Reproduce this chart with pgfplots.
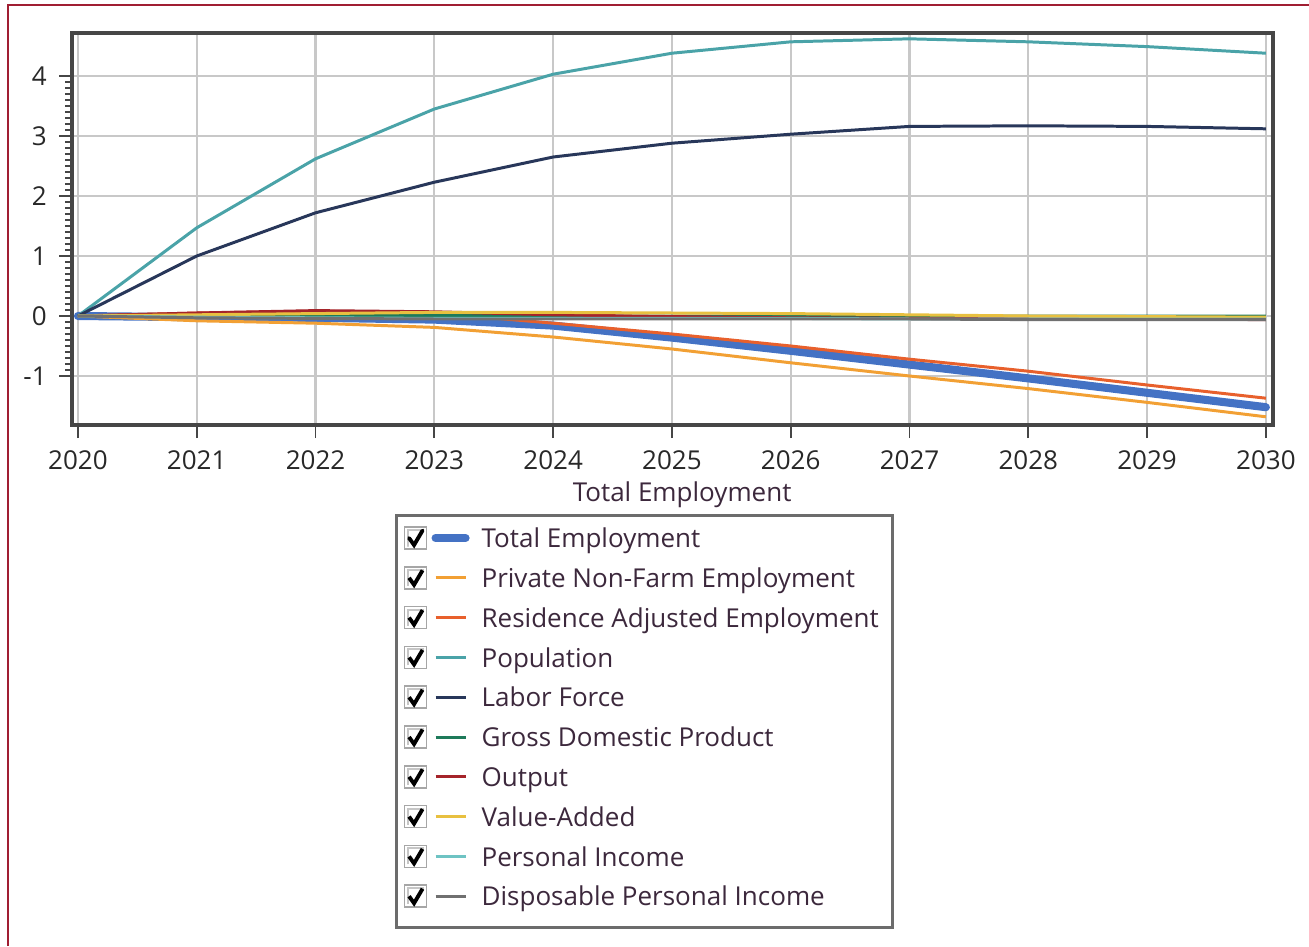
\documentclass[border=0pt]{standalone}
\usepackage{pgfplots}
\pgfplotsset{compat=1.18}
\usepackage{pgfplotstable}
\usepackage{fontspec}
\setmainfont{Open Sans}

\definecolor{cTE}{RGB}{68,114,196}
\definecolor{cPNF}{RGB}{242,160,52}
\definecolor{cRAE}{RGB}{232,96,44}
\definecolor{cPOP}{RGB}{74,163,168}
\definecolor{cLF}{RGB}{40,55,90}
\definecolor{cGDP}{RGB}{30,122,90}
\definecolor{cOUT}{RGB}{165,36,42}
\definecolor{cVA}{RGB}{232,192,64}
\definecolor{cPI}{RGB}{110,195,195}
\definecolor{cDPI}{RGB}{112,112,112}
\definecolor{frameRed}{RGB}{160,30,50}
\definecolor{axisGray}{RGB}{70,70,70}
\definecolor{gridGray}{RGB}{200,200,200}
\definecolor{labText}{RGB}{60,40,60}
\definecolor{tickText}{RGB}{40,40,40}

\pgfplotstableread{
year TE PNF RAE POP LF GDP OUT VA PI DPI
2020 0 0 0 0 0 0 0 0 0 0
2021 -0.02 -0.08 0.05 1.47 1.00 0.01 0.05 0.02 -0.02 -0.03
2022 -0.03 -0.12 0.08 2.62 1.72 0.01 0.09 0.04 -0.03 -0.04
2023 -0.06 -0.19 0.05 3.45 2.23 0.01 0.07 0.06 -0.04 -0.05
2024 -0.16 -0.35 -0.12 4.03 2.65 0.00 0.02 0.06 -0.04 -0.05
2025 -0.36 -0.55 -0.30 4.38 2.88 0.00 -0.01 0.05 -0.04 -0.05
2026 -0.58 -0.78 -0.50 4.57 3.03 0.00 -0.03 0.04 -0.04 -0.05
2027 -0.81 -1.00 -0.72 4.62 3.16 0.00 -0.04 0.02 -0.05 -0.05
2028 -1.04 -1.21 -0.92 4.57 3.17 0.00 -0.05 0.00 -0.05 -0.06
2029 -1.28 -1.44 -1.15 4.49 3.16 0.00 -0.05 -0.01 -0.05 -0.06
2030 -1.52 -1.68 -1.37 4.38 3.12 0.00 -0.06 -0.02 -0.05 -0.06
}\datatable

\newcommand{\chartfont}{\fontsize{7.4}{9}\selectfont}

\begin{document}
\begin{tikzpicture}
\useasboundingbox (0,0) rectangle (13.09,9.46);
\draw[frameRed, line width=0.6pt] (0.08,0) -- (0.08,9.41) -- (13.09,9.41);
\begin{axis}[
  at={(0.72cm,5.21cm)}, anchor=south west,
  scale only axis, width=12.01cm, height=3.92cm,
  xmin=2019.95, xmax=2030.06,
  ymin=-1.817, ymax=4.717,
  xtick={2020,2021,...,2030},
  ytick={-1,0,1,2,3,4},
  minor x tick num=3, minor y tick num=9,
  grid=major,
  major grid style={gridGray, line width=0.6pt},
  axis line style={axisGray, line width=1pt},
  tick pos=left, tick align=outside,
  major tick length=0.13cm, minor tick length=0.07cm,
  tick style={axisGray, line width=0.5pt},
  every tick label/.append style={font=\chartfont, text=tickText},
  /pgf/number format/assume math mode=true,
  /pgf/number format/1000 sep={},
  xlabel={Total Employment},
  xlabel style={at={(rel axis cs:0.508,0)}, anchor=north, yshift=-0.44cm, font=\chartfont, text=labText},
  legend cell align=left,
  legend style={at={(rel axis cs:0.269,-0.227)}, anchor=north west,
    draw=gray!85!black, line width=0.9pt, fill=white,
    font=\chartfont, text=labText,
    inner xsep=2pt, inner ysep=2pt, row sep=0pt,
    nodes={inner ysep=0pt, text height=0.25cm, text depth=0.148cm}},
  legend image code/.code={
    \begin{scope}[yshift=0.045cm]
    \draw[gray!70, line width=0.5pt, fill=white] (0cm,-0.11cm) rectangle (0.22cm,0.11cm);
    \draw[gray!45, line width=0.6pt] (0.03cm,-0.08cm) -- (0.03cm,0.08cm) -- (0.19cm,0.08cm);
    \draw[black, line width=1.1pt, fill=none] (0.045cm,0cm) -- (0.095cm,-0.07cm) -- (0.18cm,0.075cm);
    \draw[#1] (0.31cm,0cm) -- (0.61cm,0cm);
    \path (0.66cm,0cm);
    \end{scope}
  },
]
\addplot[cTE, line width=2.3pt, line cap=round] table[x=year, y=TE] {\datatable};
\addlegendentry{Total Employment}
\addplot[cPNF, line width=0.85pt] table[x=year, y=PNF] {\datatable};
\addlegendentry{Private Non-Farm Employment}
\addplot[cRAE, line width=0.85pt] table[x=year, y=RAE] {\datatable};
\addlegendentry{Residence Adjusted Employment}
\addplot[cPOP, line width=0.85pt] table[x=year, y=POP] {\datatable};
\addlegendentry{Population}
\addplot[cLF, line width=0.85pt] table[x=year, y=LF] {\datatable};
\addlegendentry{Labor Force}
\addplot[cGDP, line width=0.85pt] table[x=year, y=GDP] {\datatable};
\addlegendentry{Gross Domestic Product}
\addplot[cOUT, line width=0.85pt] table[x=year, y=OUT] {\datatable};
\addlegendentry{Output}
\addplot[cVA, line width=0.85pt] table[x=year, y=VA] {\datatable};
\addlegendentry{Value-Added}
\addplot[cPI, line width=0.85pt] table[x=year, y=PI] {\datatable};
\addlegendentry{Personal Income}
\addplot[cDPI, line width=0.85pt] table[x=year, y=DPI] {\datatable};
\addlegendentry{Disposable Personal Income}
\end{axis}
\end{tikzpicture}
\end{document}
